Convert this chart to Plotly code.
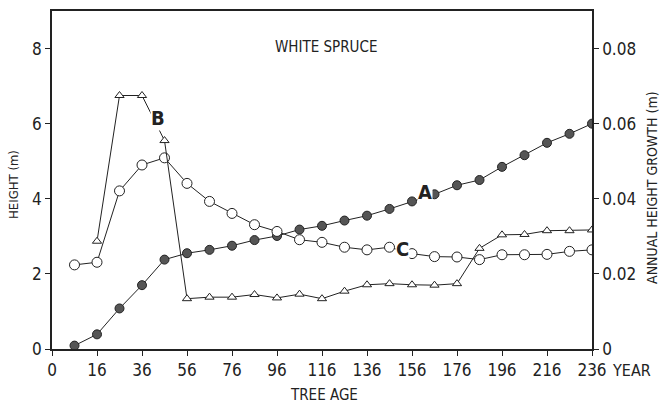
import plotly.graph_objects as go

# ---- data ----
ages_A = [6, 16, 26, 36, 46, 56, 66, 76, 86, 96, 106, 116, 126, 136, 146, 156, 166, 176, 186, 196, 206, 216, 226, 236]
height_A = [0.09, 0.39, 1.08, 1.70, 2.38, 2.55, 2.64, 2.75, 2.90, 3.01, 3.18, 3.28, 3.42, 3.55, 3.73, 3.93, 4.12, 4.36, 4.50, 4.85, 5.16, 5.49, 5.73, 6.00]

ages_B = [16, 26, 36, 46, 56, 66, 76, 86, 96, 106, 116, 126, 136, 146, 156, 166, 176, 186, 196, 206, 216, 226, 236]
growth_B = [0.0287, 0.0675, 0.0675, 0.0555, 0.0134, 0.0138, 0.0138, 0.0145, 0.0136, 0.0146, 0.0134, 0.0154, 0.0171, 0.0174, 0.0171, 0.0170, 0.0174, 0.0268, 0.0304, 0.0305, 0.0315, 0.0315, 0.0317]

ages_C = [6, 16, 26, 36, 46, 56, 66, 76, 86, 96, 106, 116, 126, 136, 146, 156, 166, 176, 186, 196, 206, 216, 226, 236]
growth_C = [0.0224, 0.0231, 0.0421, 0.0490, 0.0509, 0.0441, 0.0393, 0.0361, 0.0331, 0.0313, 0.0291, 0.0284, 0.0271, 0.0264, 0.0271, 0.0254, 0.0246, 0.0245, 0.0238, 0.0251, 0.0251, 0.0252, 0.0260, 0.0264]

x_tick_pos = [-4, 16, 36, 56, 76, 96, 116, 136, 156, 176, 196, 216, 236]
x_tick_text = ["0", "16", "36", "56", "76", "96", "116", "136", "156", "176", "196", "216", "236"]
left_ticks = [0, 2, 4, 6, 8]
right_ticks = [0, 0.02, 0.04, 0.06, 0.08]
right_tick_text = ["0", "0.02", "0.04", "0.06", "0.08"]

FONT = "Liberation Sans Narrow, DejaVu Sans Condensed, Arial Narrow, sans-serif"
INK = "#222222"

fig = go.Figure()

fig.add_trace(go.Scatter(
    x=ages_C, y=growth_C, yaxis="y2", mode="lines+markers", name="C",
    line=dict(color=INK, width=1),
    marker=dict(symbol="circle", size=10, color="white", line=dict(color=INK, width=1)),
))
fig.add_trace(go.Scatter(
    x=ages_B, y=growth_B, yaxis="y2", mode="lines+markers", name="B",
    line=dict(color=INK, width=1),
    marker=dict(symbol="triangle-up", size=8, color="white", line=dict(color=INK, width=1)),
))
fig.add_trace(go.Scatter(
    x=ages_A, y=height_A, mode="lines+markers", name="A",
    line=dict(color=INK, width=1),
    marker=dict(symbol="circle", size=9, color="#555555", line=dict(color=INK, width=1)),
))

TICKFONT = dict(family=FONT, size=17, color=INK)

fig.update_layout(
    width=661, height=405,
    margin=dict(l=52, r=69, t=9, b=56),
    paper_bgcolor="white", plot_bgcolor="white",
    showlegend=False,
    font=dict(family=FONT, color=INK, size=17),
    xaxis=dict(
        range=[-4, 236], tickvals=x_tick_pos, ticktext=x_tick_text,
        showgrid=False, zeroline=False, showline=True, linecolor=INK, linewidth=1.5,
        mirror=True, ticks="outside", ticklen=5, tickcolor=INK,
        tickfont=TICKFONT,
    ),
    yaxis=dict(
        range=[0, 9], tickvals=left_ticks,
        showgrid=False, zeroline=False, showline=True, linecolor=INK, linewidth=1.5,
        ticks="outside", ticklen=5, tickcolor=INK,
        tickfont=TICKFONT,
    ),
    yaxis2=dict(
        range=[0, 0.09], tickvals=right_ticks, ticktext=right_tick_text,
        overlaying="y", side="right",
        showgrid=False, zeroline=False, showline=True, linecolor=INK, linewidth=1.5,
        ticks="outside", ticklen=5, tickcolor=INK,
        tickfont=TICKFONT,
    ),
)

plot_left, plot_right, plot_top, plot_bottom = 52, 592, 9, 349
def px(xp):
    return (xp - plot_left) / (plot_right - plot_left)
def py(yp):
    return (plot_bottom - yp) / (plot_bottom - plot_top)

fig.add_annotation(text="WHITE SPRUCE", xref="paper", yref="paper", x=px(326), y=py(45),
                   showarrow=False, xanchor="center", yanchor="middle",
                   font=dict(family=FONT, size=15, color=INK))
# series labels
fig.add_annotation(text="<b>A</b>", xref="x", yref="y", x=161.8, y=4.17, showarrow=False,
                   bgcolor="white", borderpad=0, font=dict(family=FONT, size=20, color=INK))
fig.add_annotation(text="<b>B</b>", xref="x", yref="y2", x=43.2, y=0.0615, showarrow=False,
                   bgcolor="white", borderpad=0, font=dict(family=FONT, size=20, color=INK))
fig.add_annotation(text="<b>C</b>", xref="x", yref="y2", x=151.9, y=0.0267, showarrow=False,
                   bgcolor="white", borderpad=0, font=dict(family=FONT, size=20, color=INK))
# axis titles
fig.add_annotation(text="HEIGHT (m)", xref="paper", yref="paper", x=px(14), y=py(184),
                   textangle=-90, showarrow=False, xanchor="center", yanchor="middle",
                   font=dict(family=FONT, size=13, color=INK))
fig.add_annotation(text="ANNUAL HEIGHT GROWTH (m)", xref="paper", yref="paper", x=px(652), y=py(187),
                   textangle=-90, showarrow=False, xanchor="center", yanchor="middle",
                   font=dict(family=FONT, size=14, color=INK))
fig.add_annotation(text="TREE AGE", xref="paper", yref="paper", x=px(324), y=py(395),
                   showarrow=False, xanchor="center", yanchor="middle",
                   font=dict(family=FONT, size=15, color=INK))
fig.add_annotation(text="YEAR", xref="paper", yref="paper", x=px(631), y=py(371),
                   showarrow=False, xanchor="center", yanchor="middle",
                   font=dict(family=FONT, size=16, color=INK))

fig.write_html("out.html", config={"displayModeBar": False},
               post_script="document.body.style.margin='0px';")
